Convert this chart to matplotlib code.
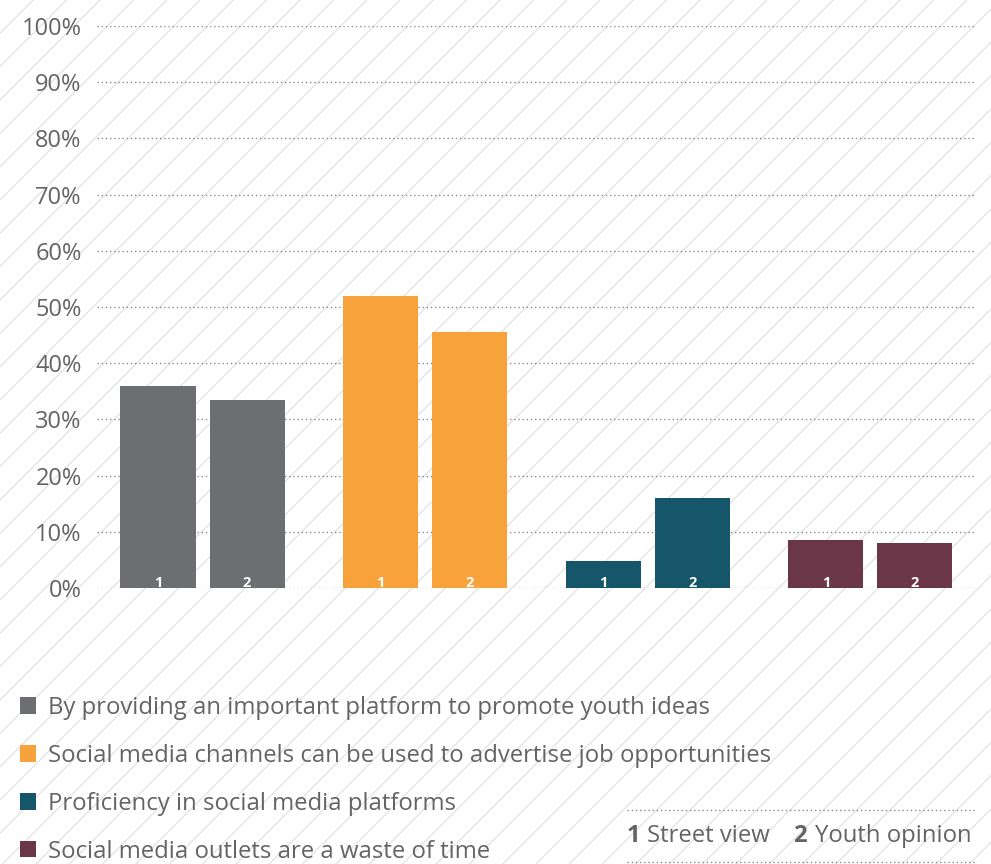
import numpy as np
import matplotlib
matplotlib.use("Agg")
import matplotlib.pyplot as plt
from matplotlib.patches import Patch, Rectangle
from matplotlib.lines import Line2D

# data
categories = ["By providing an important platform to promote youth ideas",
              "Social media channels can be used to advertise job opportunities",
              "Proficiency in social media platforms",
              "Social media outlets are a waste of time"]
street_view = [36, 52, 4.8, 8.5]
youth_opinion = [33.5, 45.6, 16, 8]
colors = ["#6d6e71", "#f7a23b", "#15566b", "#6b3748"]
yticks = list(range(0, 101, 10))

txt_col = "#636466"
plt.rcParams['font.family'] = ['Open Sans', 'DejaVu Sans']
plt.rcParams['hatch.color'] = '#e4e4e4'
plt.rcParams['hatch.linewidth'] = 1.0

W, H = 991, 864
fig = plt.figure(figsize=(W/100, H/100), dpi=100)

# striped background
bg = Rectangle((0, 0), 1, 1, transform=fig.transFigure, facecolor='white',
               edgecolor='#e4e4e4', hatch='/', lw=0, zorder=-10)
fig.patches.append(bg)

ax = fig.add_axes([97/W, (H-588)/H, (975-97)/W, (588-26)/H])
ax.patch.set_alpha(0)

x = np.arange(len(categories))
bw = 0.337
off = 0.2
b1 = ax.bar(x - off, street_view, bw, color=colors, zorder=3)
b2 = ax.bar(x + off, youth_opinion, bw, color=colors, zorder=3)
for bars, lab in [(b1, "1"), (b2, "2")]:
    for b in bars:
        ax.text(b.get_x() + b.get_width()/2, -0.3, lab, ha='center', va='bottom',
                color='white', fontsize=10.5, fontweight='bold', zorder=4)

ax.set_xlim(-0.474, 3.47)
ax.set_ylim(0, 100)
ax.set_yticks(yticks)
ax.set_yticklabels([f"{t}%" for t in yticks], color=txt_col, fontsize=17)
ax.set_xticks([])
ax.tick_params(axis='y', length=0, pad=11)
ax.yaxis.grid(True, linestyle=(0, (1, 2)), color='#8a8a8a', lw=1, zorder=0)
for s in ax.spines.values():
    s.set_visible(False)

handles = [Patch(facecolor=c, edgecolor='none') for c in colors]
leg = fig.legend(handles, categories, loc='upper left',
                 bbox_to_anchor=(20/W, 1 - 696/H), frameon=False,
                 borderpad=0, borderaxespad=0,
                 fontsize=17.2, labelcolor=txt_col, handlelength=0.67,
                 handleheight=0.67, handletextpad=0.52, labelspacing=1.0)

# number key
fs = 17.2
ky = 1 - 836/H
fig.text(627/W, ky, "1", fontsize=fs, fontweight='bold', color=txt_col, va='center')
fig.text(647/W, ky, "Street view", fontsize=fs, color=txt_col, va='center')
fig.text(793/W, ky, "2", fontsize=fs, fontweight='bold', color=txt_col, va='center')
fig.text(815/W, ky, "Youth opinion", fontsize=fs, color=txt_col, va='center')
for yy in [810, 862]:
    fig.add_artist(Line2D([627/W, 975/W], [1 - yy/H]*2, transform=fig.transFigure,
                          color='#8a8a8a', lw=1, linestyle=(0, (1, 2))))

fig.savefig("out.png", dpi=100)
